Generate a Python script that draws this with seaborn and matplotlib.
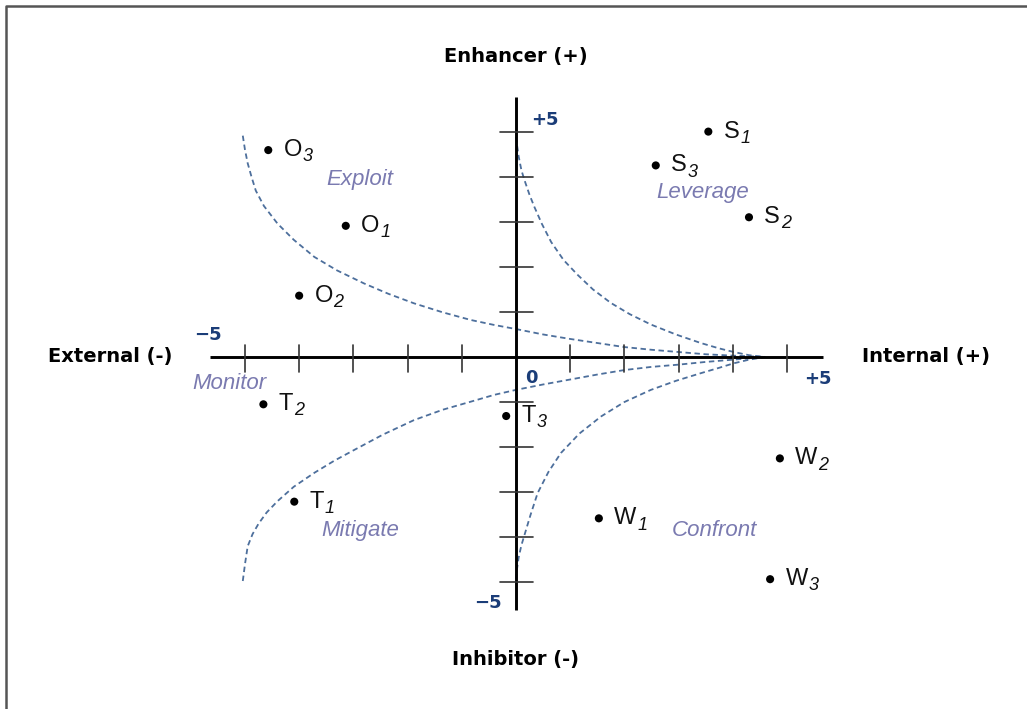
import pandas as pd
import matplotlib.pyplot as plt
import matplotlib.lines as mlines
import seaborn as sns

# factor points
letters = ['O', 'O', 'O', 'S', 'S', 'S', 'T', 'T', 'T', 'W', 'W', 'W']
subs = ['3', '1', '2', '1', '3', '2', '2', '1', '3', '2', '1', '3']
xs = [-4.57, -3.14, -4.00, 3.55, 2.58, 4.30, -4.66, -4.09, -0.18, 4.87, 1.53, 4.69]
ys = [4.59, 2.91, 1.36, 5.00, 4.25, 3.10, -1.05, -3.21, -1.31, -2.25, -3.58, -4.93]

# dashed boundary curves
curve_ul_x = [-5.04, -5.0, -4.95, -4.88, -4.8, -4.65, -4.4, -4.1, -3.72, -3.3, -2.8, -2.35,
              -1.88, -1.35, -0.83, -0.4, 0.0, 0.5, 1.0, 1.5, 2.0, 2.5, 3.0, 3.5, 4.0, 4.6]
curve_ul_y = [4.91, 4.6, 4.3, 4.0, 3.69, 3.35, 2.96, 2.6, 2.22, 1.92, 1.63, 1.4,
              1.19, 0.99, 0.82, 0.71, 0.62, 0.5, 0.40, 0.31, 0.22, 0.16, 0.11, 0.06, 0.03, 0.0]
curve_ll_x = [-5.04, -5.0, -4.95, -4.86, -4.75, -4.6, -4.4, -4.1, -3.72, -3.35, -2.98, -2.45,
              -1.88, -1.35, -0.8, -0.4, 0.0, 0.5, 1.0, 1.5, 2.0, 2.5, 3.0, 3.5, 4.0, 4.6]
curve_ll_y = [-4.97, -4.6, -4.2, -3.93, -3.7, -3.45, -3.2, -2.88, -2.57, -2.3, -2.06, -1.72,
              -1.4, -1.17, -0.98, -0.84, -0.73, -0.61, -0.5, -0.39, -0.29, -0.22, -0.17, -0.11, -0.06, 0.0]
curve_ur_x = [0.0, 0.02, 0.05, 0.1, 0.15, 0.25, 0.34, 0.48, 0.65, 0.88, 1.14, 1.42, 1.75,
              2.1, 2.49, 2.95, 3.41, 3.75, 4.02, 4.3, 4.6]
curve_ur_y = [4.88, 4.7, 4.45, 4.15, 3.95, 3.6, 3.33, 2.95, 2.55, 2.15, 1.82, 1.5, 1.2,
              0.95, 0.72, 0.5, 0.31, 0.19, 0.11, 0.04, 0.0]
curve_lr_x = [0.0, 0.02, 0.05, 0.1, 0.15, 0.27, 0.4, 0.6, 0.83, 1.17, 1.57, 2.0, 2.49,
              2.95, 3.41, 3.75, 4.02, 4.3, 4.6]
curve_lr_y = [-4.93, -4.7, -4.45, -4.18, -3.98, -3.5, -3.02, -2.55, -2.13, -1.7, -1.32, -1.0, -0.73,
              -0.53, -0.36, -0.24, -0.14, -0.06, 0.0]

tick_vals = [-5, -4, -3, -2, -1, 1, 2, 3, 4, 5]

quadrants = ['Exploit', 'Leverage', 'Monitor', 'Mitigate', 'Confront']
quad_x = [-2.88, 3.45, -5.28, -2.88, 3.67]
quad_y = [3.93, 3.64, -0.58, -3.86, -3.84]

sns.set_theme(style='white')
plt.rcParams['font.family'] = ['Liberation Sans', 'DejaVu Sans']

fig = plt.figure(figsize=(10.27, 7.09), dpi=100)
ax = fig.add_axes([0, 0, 1, 1])
ax.set_xlim(-9.52, 9.43)
ax.set_ylim(-7.81, 7.92)
ax.axis('off')

curve_color = '#4d6f9c'
for cx, cy in [(curve_ul_x, curve_ul_y), (curve_ll_x, curve_ll_y),
               (curve_ur_x, curve_ur_y), (curve_lr_x, curve_lr_y)]:
    sns.lineplot(x=cx, y=cy, ax=ax, sort=False, color=curve_color,
                 lw=1.3, linestyle=(0, (3, 2)))

# main axes
ax.plot([-5.65, 5.66], [0, 0], color='black', lw=2.1, solid_capstyle='butt')
ax.plot([0, 0], [-5.61, 5.77], color='black', lw=2.1, solid_capstyle='butt')
for t in tick_vals:
    ax.plot([t, t], [-0.33, 0.27], color='#333333', lw=1.2)
    ax.plot([-0.3, 0.31], [t, t], color='#333333', lw=1.2)

pts = pd.DataFrame({'x': xs, 'y': ys, 'letter': letters, 'sub': subs})
sns.scatterplot(data=pts, x='x', y='y', ax=ax, color='black', s=34,
                edgecolor='none', zorder=5)
for _, r in pts.iterrows():
    main = ax.annotate(r['letter'], (r['x'], r['y']), xytext=(11, 0),
                       textcoords='offset points', ha='left', va='center',
                       fontsize=17, color='#111111')
    ax.annotate(r['sub'], xy=(1.0, 0.0), xycoords=main, xytext=(0.5, -3),
                textcoords='offset points', ha='left', va='bottom',
                fontsize=13, style='italic', color='#111111')

for q, qx, qy in zip(quadrants, quad_x, quad_y):
    ax.text(qx, qy, q, ha='center', va='center', fontsize=16,
            style='italic', color='#7a7ab0')

bold_font = ['DejaVu Sans']
for s, bx, by in [('Enhancer (+)', 0, 6.66), ('Inhibitor (-)', 0, -6.72),
                  ('External (-)', -7.49, 0), ('Internal (+)', 7.56, 0)]:
    ax.text(bx, by, s, ha='center', va='center', fontsize=14,
            fontweight='bold', family=bold_font, color='black')

num_color = '#1b3d78'
for s, nx, ny in [('\u22125', -5.68, 0.49), ('+5', 0.54, 5.26), ('0', 0.28, -0.47),
                  ('+5', 5.57, -0.49), ('\u22125', -0.52, -5.46)]:
    ax.text(nx, ny, s, ha='center', va='center', fontsize=13,
            fontweight='bold', family=bold_font, color=num_color)

# frame lines at top and left
fx = 6 / 1027
fy = 1 - 6 / 709
fig.add_artist(mlines.Line2D([fx, fx, 1], [0, fy, fy], color='#555555', lw=1.8,
                             transform=fig.transFigure))

fig.savefig('out.png', dpi=100)
